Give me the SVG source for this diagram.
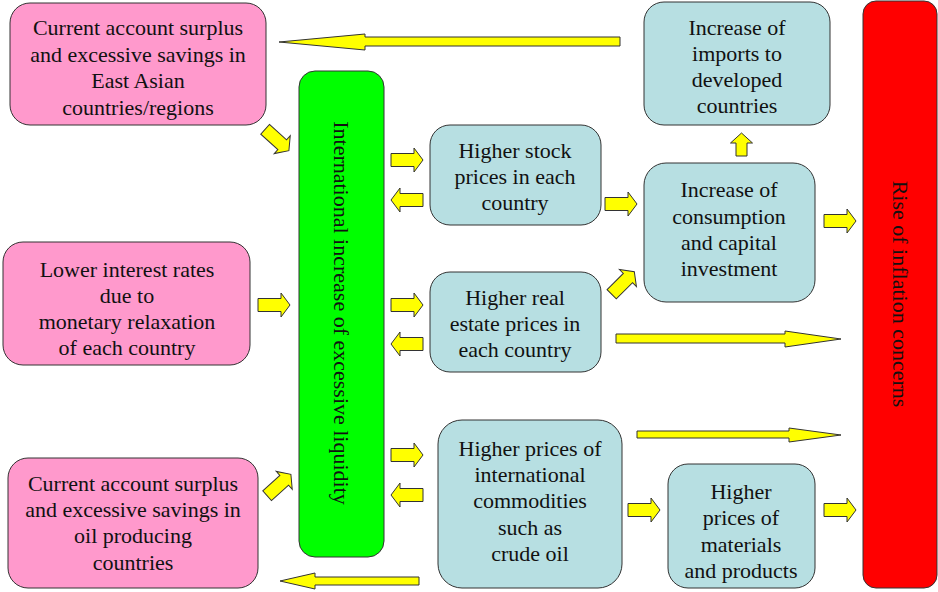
<svg xmlns="http://www.w3.org/2000/svg" xmlns:xlink="http://www.w3.org/1999/xlink" width="938" height="592" viewBox="0 0 938 592">
<style>
.box{stroke:#333;stroke-width:1}
.pink{fill:#FF99CC}
.blue{fill:#B7DFE2}
.green{fill:#00FF00}
.red{fill:#FF0000}
.arr{fill:#FFFF00;stroke:#333;stroke-width:1;stroke-linejoin:miter}
text{font-family:"Liberation Serif","Times New Roman",serif;font-size:22px;fill:#111;text-anchor:middle;dominant-baseline:central}
</style>
<defs>
<polygon id="sa" class="arr" points="-16,-6.5 7,-6.5 7,-12 16,0 7,12 7,6.5 -16,6.5"/>
</defs>
<rect width="938" height="592" fill="#fff"/>
<g id="n-eastasia">
<rect class="box pink" x="10" y="3" width="256" height="122" rx="20"/>
<text x="138" y="27">Current account surplus</text>
<text x="138" y="54">and excessive savings in</text>
<text x="138" y="80">East Asian</text>
<text x="138" y="107">countries/regions</text>
</g>
<g id="n-interest">
<rect class="box pink" x="3" y="242" width="247" height="123" rx="20"/>
<text x="127" y="269">Lower interest rates</text>
<text x="127" y="295">due to</text>
<text x="127" y="321">monetary relaxation</text>
<text x="127" y="347">of each country</text>
</g>
<g id="n-oil">
<rect class="box pink" x="8" y="458" width="250" height="130" rx="20"/>
<text x="133" y="483">Current account surplus</text>
<text x="133" y="509">and excessive savings in</text>
<text x="133" y="535">oil producing</text>
<text x="133" y="562">countries</text>
</g>
<g id="n-liquidity">
<rect class="box green" x="299" y="71" width="85" height="486" rx="16"/>
<text transform="translate(341,313) rotate(90)">International increase of excessive liquidity</text>
</g>
<g id="n-inflation">
<rect class="box red" x="863" y="1" width="74" height="587" rx="13"/>
<text transform="translate(900,294) rotate(90)">Rise of inflation concerns</text>
</g>
<g id="n-imports">
<rect class="box blue" x="644" y="2" width="186" height="123" rx="20"/>
<text x="737" y="27">Increase of</text>
<text x="737" y="53">imports to</text>
<text x="737" y="79">developed</text>
<text x="737" y="105">countries</text>
</g>
<g id="n-stock">
<rect class="box blue" x="430" y="125" width="171" height="100" rx="20"/>
<text x="515" y="150">Higher stock</text>
<text x="515" y="176">prices in each</text>
<text x="515" y="202">country</text>
</g>
<g id="n-realestate">
<rect class="box blue" x="430" y="272" width="171" height="100" rx="20"/>
<text x="515" y="297">Higher real</text>
<text x="515" y="323">estate prices in</text>
<text x="515" y="349">each country</text>
</g>
<g id="n-consumption">
<rect class="box blue" x="644" y="163" width="171" height="139" rx="22"/>
<text x="729" y="189">Increase of</text>
<text x="729" y="216">consumption</text>
<text x="729" y="242">and capital</text>
<text x="729" y="268">investment</text>
</g>
<g id="n-commodities">
<rect class="box blue" x="438" y="420" width="184" height="168" rx="24"/>
<text x="530" y="448">Higher prices of</text>
<text x="530" y="474">international</text>
<text x="530" y="500">commodities</text>
<text x="530" y="527">such as</text>
<text x="530" y="553">crude oil</text>
</g>
<g id="n-materials">
<rect class="box blue" x="668" y="464" width="147" height="124" rx="20"/>
<text x="741" y="491">Higher</text>
<text x="741" y="517">prices of</text>
<text x="741" y="544">materials</text>
<text x="741" y="570">and products</text>
</g>
<g id="connectors">
<polygon class="arr" points="279,42 365,34 365,37 620,37 620,46 365,46 365,50"/>
<polygon class="arr" points="616,334 785,334 785,331 841,339 785,347 785,343 616,343"/>
<polygon class="arr" points="637,431 789,431 789,428 841,435 789,442 789,438 637,438"/>
<polygon class="arr" points="280,581 315,573 315,577 419,577 419,585 315,585 315,589"/>
<polygon class="arr" points="736,156 736,143 730.5,143 741.5,133 752.5,143 747,143 747,156"/>
<use xlink:href="#sa" transform="translate(277,140) rotate(42)"/>
<use xlink:href="#sa" transform="translate(274,305)"/>
<use xlink:href="#sa" transform="translate(279,485) rotate(-42)"/>
<use xlink:href="#sa" transform="translate(407,160)"/>
<use xlink:href="#sa" transform="translate(407,200) rotate(180)"/>
<use xlink:href="#sa" transform="translate(407,305)"/>
<use xlink:href="#sa" transform="translate(407,344) rotate(180)"/>
<use xlink:href="#sa" transform="translate(407,455)"/>
<use xlink:href="#sa" transform="translate(407,495) rotate(180)"/>
<use xlink:href="#sa" transform="translate(621,204)"/>
<use xlink:href="#sa" transform="translate(623,283) rotate(-45)"/>
<use xlink:href="#sa" transform="translate(840,221)"/>
<use xlink:href="#sa" transform="translate(644,510)"/>
<use xlink:href="#sa" transform="translate(840,510)"/>
</g>
</svg>
